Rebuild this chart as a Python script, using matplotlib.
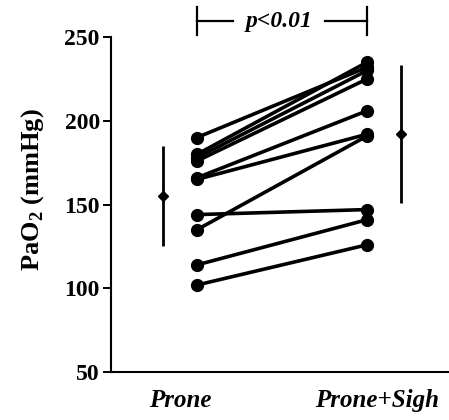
import numpy as np
import matplotlib.pyplot as plt
import matplotlib.transforms as mtransforms

# datos (PaO2, mmHg)
prone = [190, 180, 178, 176, 166, 165, 135, 144, 114, 102]
prone_sigh = [232, 235, 230, 225, 206, 192, 191, 147, 141, 126]
medias = [155, 192]
desv = [30, 41]
etiquetas = ["Prone", "Prone+Sigh"]
yticks = [50, 100, 150, 200, 250]

plt.rcParams['font.family'] = ['Liberation Serif', 'DejaVu Serif']
plt.rcParams['mathtext.fontset'] = 'custom'
plt.rcParams['mathtext.rm'] = 'Liberation Serif'
plt.rcParams['mathtext.bf'] = 'Liberation Serif:bold'

fig = plt.figure(figsize=(4.49, 4.2), dpi=100)
ax = fig.add_axes([0.247, 0.114, 0.753, 0.798])

# líneas por sujeto
for a, b in zip(prone, prone_sigh):
    ax.plot([1, 2], [a, b], color='black', lw=2.6, marker='o', ms=8.5,
            solid_capstyle='round', clip_on=False, zorder=3)

# media +- DE
ax.errorbar([0.8, 2.2], medias, yerr=desv, fmt='D', color='black', ms=5,
            elinewidth=2, capsize=0, clip_on=False)

ax.set_xlim(0.494, 2.48)
ax.set_ylim(50, 250)
ax.set_yticks(yticks)
ax.set_yticklabels([str(t) for t in yticks], fontsize=17, fontweight='bold')
ax.tick_params(axis='y', direction='out', length=6, width=1.4, pad=2)
ax.set_xticks([])

ax.spines['top'].set_visible(False)
ax.spines['right'].set_visible(False)
ax.spines['left'].set_linewidth(1.5)
ax.spines['bottom'].set_linewidth(1.5)

# etiquetas de grupo
trans = mtransforms.blended_transform_factory(ax.transData, fig.transFigure)
ax.text(0.9, 0.018, etiquetas[0], transform=trans, ha='center', va='bottom',
        fontsize=18, fontweight='bold', style='italic')
ax.text(2.06, 0.018, etiquetas[1], transform=trans, ha='center', va='bottom',
        fontsize=18, fontweight='bold', style='italic')

# eje y
fig.text(0.072, 0.548, r"PaO$_\mathbf{2}$ (mmHg)", rotation=90, ha='center',
         va='center', fontsize=19, fontweight='bold')

# corchete de significancia
yb = 259.5
ax.plot([1, 1], [251, 268], color='black', lw=1.6, clip_on=False)
ax.plot([2, 2], [251, 268], color='black', lw=1.6, clip_on=False)
ax.plot([1, 1.21], [yb, yb], color='black', lw=1.6, clip_on=False)
ax.plot([1.75, 2], [yb, yb], color='black', lw=1.6, clip_on=False)
ax.text(1.48, yb, "p<0.01", ha='center', va='center', fontsize=17,
        fontweight='bold', style='italic')

fig.savefig("out.png", dpi=100)
